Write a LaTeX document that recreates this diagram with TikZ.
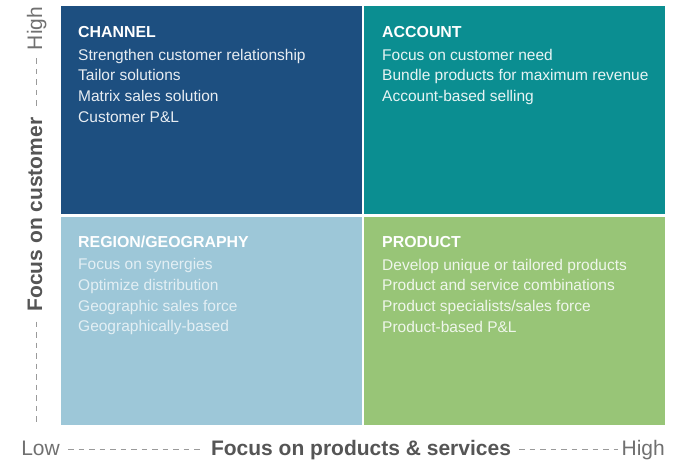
\documentclass[tikz,border=0pt]{standalone}
\usepackage{fontspec}
\setmainfont{Liberation Sans}
\definecolor{chanblue}{HTML}{1D4F80}
\definecolor{acctteal}{HTML}{0B8E91}
\definecolor{regionblue}{HTML}{9DC7D8}
\definecolor{prodgreen}{HTML}{98C577}
\definecolor{axisdark}{HTML}{555555}
\definecolor{axislight}{HTML}{707070}
\definecolor{dashgray}{HTML}{9A9A9A}
\begin{document}
\begin{tikzpicture}[x=1pt,y=-1pt,
  quadrant/.style={rectangle,draw=none,inner sep=0pt,minimum width=301pt,minimum height=208pt},
  % multi-line text is anchored at the baseline of its last line
  qtext/.style={anchor=base west,inner sep=0pt,align=left,
    font=\fontsize{15.5}{20.7}\selectfont},
  axislabel/.style={inner sep=0pt,text height=12pt,text depth=0pt,
    font=\fontsize{21}{24}\selectfont\bfseries,text=axisdark},
  axisend/.style={inner sep=0pt,text height=12pt,text depth=0pt,
    font=\fontsize{21}{24}\selectfont,text=axislight},
  axisdash/.style={draw=dashgray,line width=0.9pt,dash pattern=on 5.5pt off 5pt}
]
\useasboundingbox (0,0) rectangle (688,459);

% the four quadrants
\node[quadrant,fill=chanblue]   (channel) at (211.5,110) {};
\node[quadrant,fill=acctteal]   (account) at (514.5,110) {};
\node[quadrant,fill=regionblue] (region)  at (211.5,321) {};
\node[quadrant,fill=prodgreen]  (product) at (514.5,321) {};

% quadrant texts
\node[qtext,text=white!90!chanblue] (channeltxt) at (78,122.1)
  {{\color{white}\fontsize{15.9}{20.7}\selectfont\bfseries CHANNEL}\\[2pt]
   Strengthen customer relationship\\
   Tailor solutions\\
   Matrix sales solution\\
   Customer P\&L};
\node[qtext,text=white!90!acctteal] (accounttxt) at (382,101.4)
  {{\color{white}\fontsize{15.9}{20.7}\selectfont\bfseries ACCOUNT}\\[2pt]
   Focus on customer need\\
   Bundle products for maximum revenue\\
   Account-based selling};
\node[qtext,text=white!72!regionblue] (regiontxt) at (78,331.8)
  {{\color{white}\fontsize{15.9}{20.7}\selectfont\bfseries REGION/GEOGRAPHY}\\[2pt]
   Focus on synergies\\
   Optimize distribution\\
   Geographic sales force\\
   Geographically-based};
\node[qtext,text=white!85!prodgreen] (producttxt) at (382,332.1)
  {{\color{white}\fontsize{15.9}{20.7}\selectfont\bfseries PRODUCT}\\[2pt]
   Develop unique or tailored products\\
   Product and service combinations\\
   Product specialists/sales force\\
   Product-based P\&L};

% horizontal axis
\node[axisend,anchor=east] (xlow) at (60,449.5) {Low};
\node[axislabel] (xlab) at (361,449.5) {Focus on products \& services};
\node[axisend,anchor=east] (xhigh) at (665,449.5) {High};
\draw[axisdash,shorten <=8pt,shorten >=8pt] (xlow.east) -- (xlab.west);
\draw[axisdash,shorten <=8pt,shorten >=3pt] (xlab.east) -- (xhigh.west);

% vertical axis
\node[axisend,rotate=90] (yhigh) at (36,28.5) {High};
\node[axislabel,rotate=90] (ylab) at (36,214.5) {Focus on customer};
\coordinate (ybottom) at (36,424);
\draw[axisdash,shorten <=8pt,shorten >=8pt] (yhigh.west) -- (ylab.east);
\draw[axisdash,shorten <=10pt] (ylab.west) -- (ybottom);
\end{tikzpicture}
\end{document}
